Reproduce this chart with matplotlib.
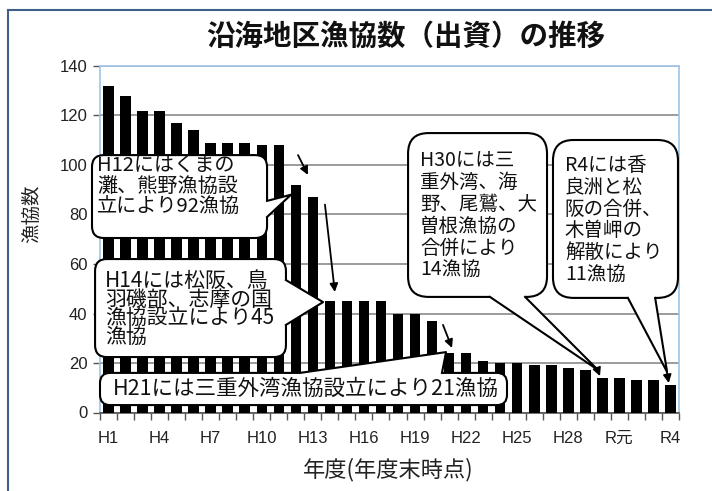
import matplotlib
matplotlib.use("Agg")
import matplotlib.pyplot as plt
from matplotlib.patches import FancyBboxPatch, Polygon
from matplotlib.lines import Line2D
import numpy as np

plt.rcParams['font.family'] = ['Noto Sans CJK JP', 'DejaVu Sans']

# data: 沿海地区漁協数 (年度末時点)
years = ["H1", "H2", "H3", "H4", "H5", "H6", "H7", "H8", "H9", "H10",
         "H11", "H12", "H13", "H14", "H15", "H16", "H17", "H18", "H19", "H20",
         "H21", "H22", "H23", "H24", "H25", "H26", "H27", "H28", "H29", "H30",
         "R元", "R2", "R3", "R4"]
counts = [132, 128, 122, 122, 117, 114, 109, 109, 109, 108,
          108, 92, 87, 45, 45, 45, 45, 40, 40, 37,
          24, 24, 21, 20, 20, 19, 19, 18, 17, 14,
          14, 13, 13, 11]

note_h12 = "H12にはくまの\n灘、熊野漁協設\n立により92漁協"
note_h14 = "H14には松阪、鳥\n羽磯部、志摩の国\n漁協設立により45\n漁協"
note_h21 = "H21には三重外湾漁協設立により21漁協"
note_h30 = "H30には三\n重外湾、海\n野、尾鷲、大\n曽根漁協の\n合併により\n14漁協"
note_r4 = "R4には香\n良洲と松\n阪の合併、\n木曽岬の\n解散により\n11漁協"

W, H = 712, 491
fig = plt.figure(figsize=(W / 100, H / 100), dpi=100)
ax = fig.add_axes([100 / W, (H - 412.5) / H, 579 / W, 346.5 / H])

x = np.arange(len(years))
ax.bar(x, counts, width=0.62, color='black', zorder=3)
ax.set_xlim(-0.5, len(years) - 0.5)
ax.set_ylim(0, 140)
ax.set_yticks(range(0, 141, 20))
ax.yaxis.grid(True, color='#8a8a8a', lw=1.2)
ax.set_axisbelow(True)

ax.set_xticks(x[::3])
ax.set_xticklabels(years[::3])
ax.set_xticks(np.arange(-0.5, len(years)), minor=True)
ax.tick_params(axis='x', which='major', length=0, pad=13)
ax.tick_params(axis='x', which='minor', length=5, color='#555555', width=1)
ax.tick_params(axis='y', length=5, color='#555555', width=1, pad=4)
for lab in ax.get_xticklabels() + ax.get_yticklabels():
    lab.set_family(['Liberation Sans', 'Noto Sans CJK JP'])
    lab.set_fontsize(12)
    lab.set_color('#222222')

for s in ['top', 'right', 'left']:
    ax.spines[s].set_color('#9fc5ea')
    ax.spines[s].set_linewidth(1.2)
ax.spines['bottom'].set_color('#555555')
ax.spines['bottom'].set_linewidth(1.2)

# aspect of one x unit vs one y unit in pixels, for round corners
bb = ax.get_position()
asp = (bb.width * W / len(years)) / (bb.height * H / 140)


def callout(box, tail, side, text, tx, ty, size, ls, va='top', r=0.7):
    x0, y0, x1, y1 = box
    ax.add_patch(FancyBboxPatch((x0, y0), x1 - x0, y1 - y0,
                                boxstyle=f"round,pad=0,rounding_size={r}",
                                mutation_aspect=asp, fc='white', ec='black',
                                lw=1.5, clip_on=False, zorder=5))
    (ax_, ay_), tip, (bx_, by_) = tail
    dx, dy = {'right': (-0.3, 0), 'top': (0, -2), 'bottom': (0, 2)}[side]
    ax.add_patch(Polygon([(ax_ + dx, ay_ + dy), (ax_, ay_), tip, (bx_, by_),
                          (bx_ + dx, by_ + dy)], closed=True, fc='white',
                         ec='none', clip_on=False, zorder=6))
    ax.plot([ax_, tip[0], bx_], [ay_, tip[1], by_], color='black', lw=1.5,
            clip_on=False, zorder=7)
    ax.text(tx, ty, text, ha='left', va=va, fontsize=size, linespacing=ls,
            color='#111111', zorder=8, clip_on=False)


def arrow(start, end):
    ax.annotate('', xy=end, xytext=start, zorder=9,
                arrowprops=dict(arrowstyle='-|>', color='black', lw=1.3,
                                mutation_scale=12, shrinkA=0, shrinkB=0))


callout((-0.97, 70.5, 9.31, 104.0), [(9.31, 85.5), (10.72, 88.0), (9.31, 79.0)],
        'right', note_h12, -0.68, 104.0, 14.5, 1.0)
callout((-0.79, 22.4, 10.42, 62.0), [(10.42, 53.5), (12.6, 44.6), (10.42, 35.4)],
        'right', note_h14, -0.21, 57.5, 15, 0.8)
callout((-0.5, 3.0, 23.4, 16.0), [(11.25, 16.0), (19.82, 24.4), (19.58, 16.0)],
        'top', note_h21, 0.26, 9.5, 15.5, 1.0, va='center', r=0.6)
callout((17.59, 46.7, 25.75, 112.9), [(22.4, 46.7), (28.74, 17.2), (24.46, 46.7)],
        'bottom', note_h30, 18.29, 106.0, 14, 1.05, r=1.2)
callout((26.1, 46.3, 33.44, 110.1), [(30.5, 46.3), (32.8, 16.4), (32.1, 46.3)],
        'bottom', note_r4, 26.8, 104.0, 14, 1.05, r=1.2)

arrow((11.13, 104.0), (11.71, 96.0))
arrow((12.71, 84.0), (13.29, 48.7))
arrow((19.64, 35.4), (20.17, 26.1))
arrow((28.7, 17.5), (28.86, 14.7))
arrow((32.78, 16.6), (32.9, 11.9))

fig.text(406 / W, 1 - 37 / H, "沿海地区漁協数（出資）の推移", ha='center',
         va='center', fontsize=20.5, fontweight='bold', color='#111111')
fig.text(32 / W, 1 - 214 / H, "漁協数", rotation=90, ha='center', va='center',
         fontsize=14, color='#222222')
fig.text(388 / W, 1 - 470 / H, "年度(年度末時点)", ha='center', va='center',
         fontsize=16, color='#222222')

fig.add_artist(Line2D([8 / W, 8 / W], [0, 1 - 10 / H], transform=fig.transFigure,
                      color='#3e5f8a', lw=1.5))
fig.add_artist(Line2D([8 / W, 1], [1 - 10 / H, 1 - 10 / H], transform=fig.transFigure,
                      color='#3e5f8a', lw=1.5))

fig.savefig("out.png", dpi=100)
